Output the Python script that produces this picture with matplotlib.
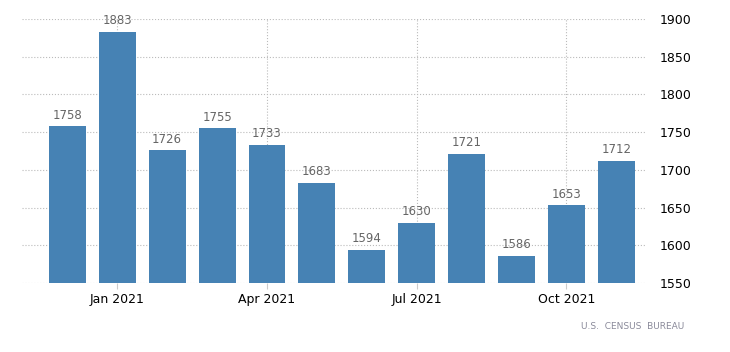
import matplotlib.pyplot as plt
import numpy as np

months = ['Dec 2020', 'Jan 2021', 'Feb 2021', 'Mar 2021', 'Apr 2021', 'May 2021',
          'Jun 2021', 'Jul 2021', 'Aug 2021', 'Sep 2021', 'Oct 2021', 'Nov 2021']
values = [1758, 1883, 1726, 1755, 1733, 1683, 1594, 1630, 1721, 1586, 1653, 1712]
tick_labels = ['Jan 2021', 'Apr 2021', 'Jul 2021', 'Oct 2021']
y_ticks = [1550, 1600, 1650, 1700, 1750, 1800, 1850, 1900]

fig = plt.figure(figsize=(7.3, 3.52), dpi=100)
ax = fig.add_axes([0.030, 0.196, 0.854, 0.750])

x = np.arange(len(months))
ax.bar(x, values, width=0.74, color='#4682b4', zorder=2)

for xi, v in zip(x, values):
    ax.text(xi, v + 6, str(v), ha='center', va='bottom', fontsize=8.5, color='#666666')

ax.set_ylim(1550, 1900)
ax.set_xlim(-0.91, 11.58)
ax.set_yticks(y_ticks)
ax.yaxis.tick_right()
ax.tick_params(axis='y', length=0, labelsize=9, pad=10, colors='#000000')

tick_pos = [months.index(t) for t in tick_labels]
ax.set_xticks(tick_pos)
ax.set_xticklabels(tick_labels)
ax.tick_params(axis='x', length=4, color='#cccccc', labelsize=9, pad=3, colors='#000000')
ax.tick_params(axis='x', color='#cccccc')

ax.grid(True, linestyle=':', color='#bbbbbb', linewidth=0.8, zorder=0)
for s in ax.spines.values():
    s.set_visible(False)

fig.text(0.937, 0.072, 'U.S.  CENSUS  BUREAU', ha='right', va='center', fontsize=6.5, color='#8a8a9a')

plt.savefig('out.png', dpi=100)
